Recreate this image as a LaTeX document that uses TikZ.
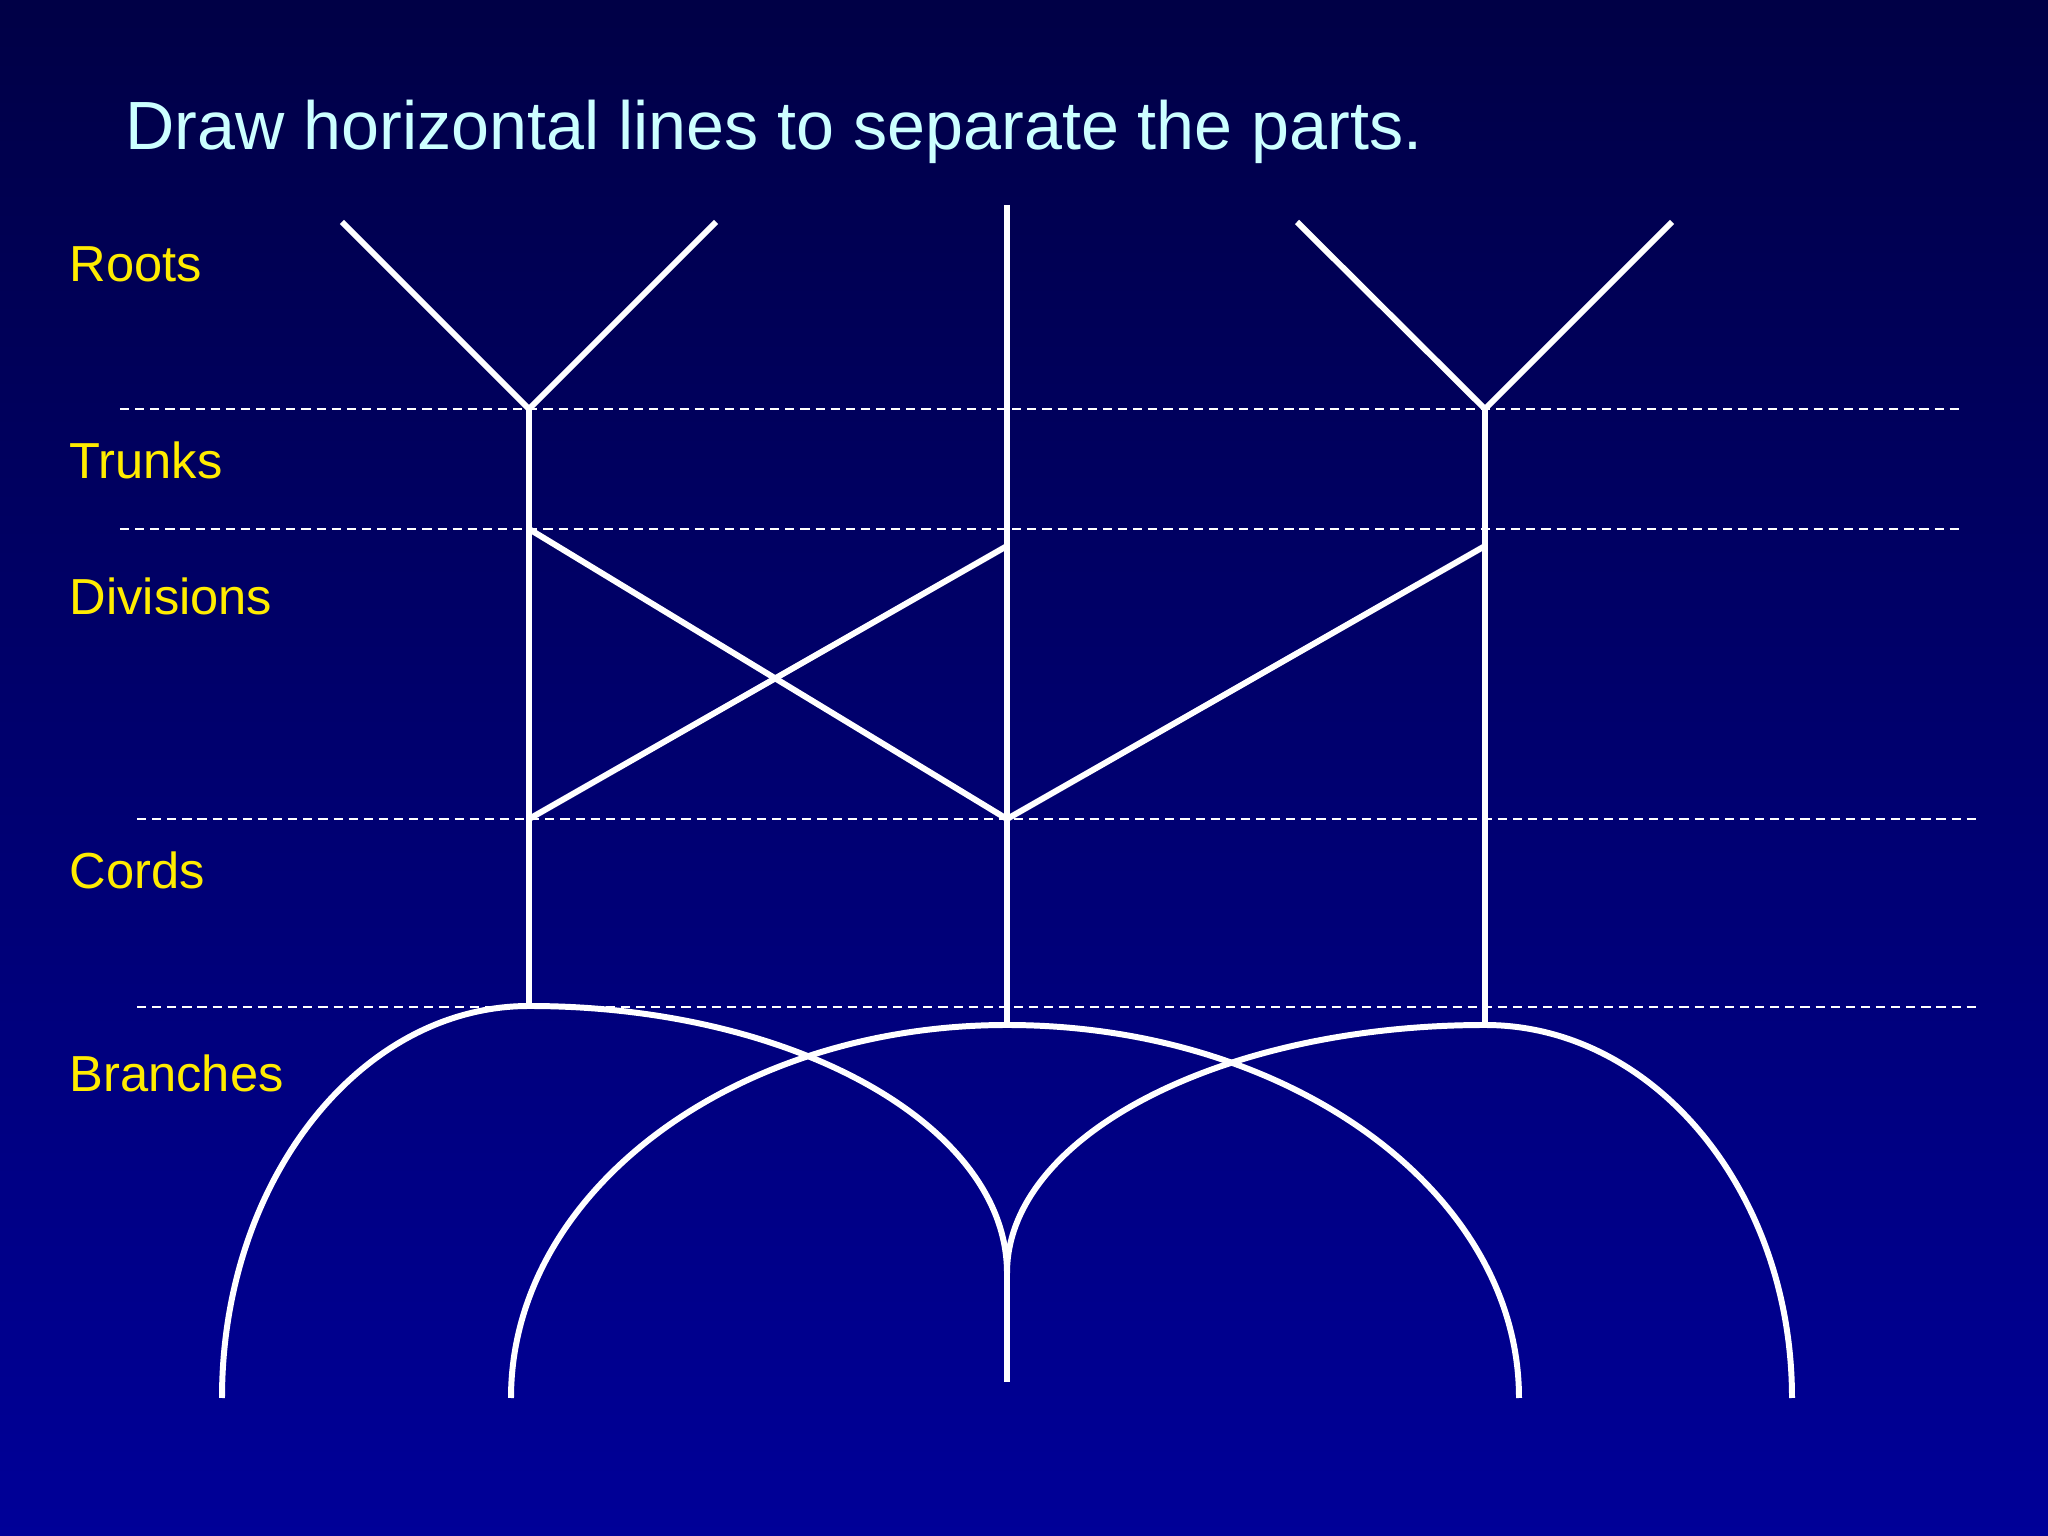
\documentclass[tikz,border=0pt]{standalone}
\usepackage{fontspec}
\setmainfont{Liberation Sans}
\definecolor{bgtop}{RGB}{0,0,70}
\definecolor{bgbot}{RGB}{0,0,152}
\definecolor{labelyellow}{RGB}{255,236,0}
\definecolor{titlecyan}{RGB}{204,255,255}
\begin{document}
\begin{tikzpicture}[x=0.01cm,y=0.01cm,
  solidline/.style={white,line width=1.7pt},
  sepline/.style={white,line width=0.65pt,dash pattern=on 2.6pt off 1.7pt},
  partlabel/.style={anchor=base west,inner sep=0pt,text=labelyellow,font=\fontsize{14.4pt}{17pt}\selectfont},
  titletext/.style={anchor=base west,inner sep=0pt,text=titlecyan,font=\fontsize{19.4pt}{23pt}\selectfont}]
\shade[top color=bgtop,bottom color=bgbot] (0,0) rectangle (2048,1536);
\useasboundingbox (0,0) rectangle (2048,1536);
% title
\node[titletext] (title) at (125,1386) {Draw horizontal lines to separate the parts.};
% labels
\node[partlabel] (roots) at (69,1254) {Roots};
\node[partlabel] (trunks) at (69,1057) {Trunks};
\node[partlabel] (divisions) at (69,921) {Divisions};
\node[partlabel] (cords) at (69,647) {Cords};
\node[partlabel] (branches) at (69,444) {Branches};
% separators
\coordinate (s1a) at (120,1127); \coordinate (s1b) at (1963,1127);
\coordinate (s2a) at (120,1007); \coordinate (s2b) at (1963,1007);
\coordinate (s3a) at (137,717);  \coordinate (s3b) at (1980,717);
\coordinate (s4a) at (137,529);  \coordinate (s4b) at (1980,529);
\draw[sepline] (s1a) -- (s1b);
\draw[sepline] (s2a) -- (s2b);
\draw[sepline] (s3a) -- (s3b);
\draw[sepline] (s4a) -- (s4b);
% key points
\coordinate (lyl) at (342,1314); \coordinate (lyr) at (716,1314); \coordinate (ly) at (529,1127);
\coordinate (ltrunkdiv) at (529,1007); \coordinate (lcord) at (529,717); \coordinate (lbot) at (529,530);
\coordinate (mtop) at (1007,1331); \coordinate (mdiv) at (1007,990); \coordinate (mcord) at (1007,717); \coordinate (mbot) at (1007,511);
\coordinate (ryl) at (1297,1314); \coordinate (ryr) at (1672,1314); \coordinate (ry) at (1485,1127);
\coordinate (rdiv) at (1485,990); \coordinate (rbot) at (1485,511);
\coordinate (junc) at (1007,263); \coordinate (stem) at (1007,154);
% roots and trunks
\draw[solidline] (lyl) -- (ly) -- (lyr);
\draw[solidline] (ly) -- (lbot);
\draw[solidline] (mtop) -- (mbot);
\draw[solidline] (ryl) -- (ry) -- (ryr);
\draw[solidline] (ry) -- (rbot);
% divisions
\draw[solidline] (ltrunkdiv) -- (mcord);
\draw[solidline] (lcord) -- (mdiv);
\draw[solidline] (mcord) -- (rdiv);
% branches
\draw[solidline] (222,138) arc[start angle=180,end angle=90,x radius=307,y radius=392]
  arc[start angle=90,end angle=0,x radius=478,y radius=267];
\draw[solidline] (511,138) arc[start angle=180,end angle=90,x radius=496,y radius=373]
  arc[start angle=90,end angle=0,x radius=512,y radius=373];
\draw[solidline] (junc) arc[start angle=180,end angle=90,x radius=478,y radius=248]
  arc[start angle=90,end angle=0,x radius=307,y radius=373];
\draw[solidline] (junc) -- (stem);
\end{tikzpicture}
\end{document}
